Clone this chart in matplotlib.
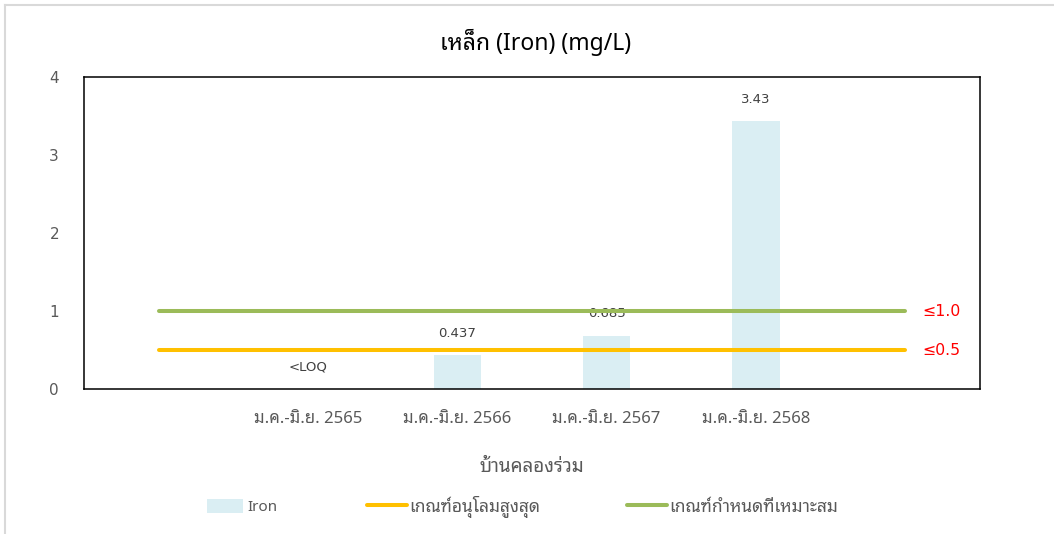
import numpy as np
import matplotlib
matplotlib.use("Agg")
import matplotlib.pyplot as plt
from matplotlib.lines import Line2D
from matplotlib.patches import Patch

# Category slots: blank slots at both ends let the limit lines extend past the bars
slots = ["", "ม.ค.-มิ.ย. 2565", "ม.ค.-มิ.ย. 2566", "ม.ค.-มิ.ย. 2567", "ม.ค.-มิ.ย. 2568", ""]
iron = [np.nan, 0.0, 0.437, 0.685, 3.43, np.nan]
iron_labels = ["", "<LOQ", "0.437", "0.685", "3.43", ""]
max_limit = [0.5, 0.5, 0.5, 0.5, 0.5, 0.5]
suitable_limit = [1.0, 1.0, 1.0, 1.0, 1.0, 1.0]
limit_texts = ["≤1.0", "≤0.5"]
yticks = [0, 1, 2, 3, 4]

THAI = ["Noto Sans Thai Looped", "DejaVu Sans"]
GREY = "#595959"
BAR = "#DAEEF3"
YELLOW = "#FFC000"
GREEN = "#9BBB59"

fig = plt.figure(figsize=(10.54, 5.34), dpi=100)
ax = fig.add_axes([0.0797, 0.2715, 0.8501, 0.5843])

x = np.arange(len(slots))
ax.bar(x, iron, width=0.315, color=BAR, zorder=1)
ax.plot(x, max_limit, color=YELLOW, lw=2.9, solid_capstyle="round", zorder=3)
ax.plot(x, suitable_limit, color=GREEN, lw=2.9, solid_capstyle="round", zorder=3)

for xi, v, lab in zip(x, iron, iron_labels):
    if lab:
        ax.annotate(lab, (xi, v), xytext=(0, 11), textcoords="offset points",
                    ha="center", va="bottom", fontsize=9.5, color="#404040",
                    family="DejaVu Sans", zorder=2)

for val, txt in zip([suitable_limit[-1], max_limit[-1]], limit_texts):
    ax.annotate(txt, (x[-1], val), xytext=(12, 0), textcoords="offset points",
                ha="left", va="center", fontsize=11.3, color="#FF0000",
                family="DejaVu Sans")

ax.set_xlim(-0.5, len(slots) - 0.5)
ax.set_ylim(0, 4)
ax.set_yticks(yticks)
ax.set_xticks(x)
ax.set_xticklabels(slots, family=THAI, fontsize=12, color=GREY)
ax.tick_params(axis="both", length=0)
ax.tick_params(axis="y", pad=18, labelsize=11, labelcolor=GREY)
ax.tick_params(axis="x", pad=16)
for s in ax.spines.values():
    s.set_linewidth(1.1)
    s.set_color("black")

ax.set_xlabel("บ้านคลองร่วม", family=THAI, fontsize=13.5, color=GREY, labelpad=22)
fig.text(0.508, 0.921, "เหล็ก (Iron) (mg/L)", ha="center", va="center",
         family=THAI, fontsize=16.5, color="black")

# Legend entries, one box each so their spacing can be set individually
entries = [
    (Patch(facecolor=BAR, edgecolor="none"), "Iron", 0.196, 11, 2.1),
    (Line2D([], [], color=YELLOW, lw=2.9, solid_capstyle="round"), "เกณฑ์อนุโลมสูงสุด", 0.348, 12.5, 2.3),
    (Line2D([], [], color=GREEN, lw=2.9, solid_capstyle="round"), "เกณฑ์กำหนดที่เหมาะสม", 0.595, 12.5, 2.3),
]
for handle, label, xpos, size, hlen in entries:
    fig.legend([handle], [label], loc="center left", bbox_to_anchor=(xpos, 0.05),
               frameon=False, handlelength=hlen * 12.5 / size, handleheight=1.0,
               handletextpad=0.3 if size < 12 else 0.15,
               borderpad=0, borderaxespad=0,
               prop={"family": THAI, "size": size}, labelcolor=GREY)

# thin outer frame along the top and left edge
fig.add_artist(Line2D([0.0052, 0.0052], [0, 0.991], transform=fig.transFigure,
                      color="#D9D9D9", lw=1.5))
fig.add_artist(Line2D([0.0052, 1.0], [0.991, 0.991], transform=fig.transFigure,
                      color="#D9D9D9", lw=1.5))

fig.savefig("out.png", dpi=100)
